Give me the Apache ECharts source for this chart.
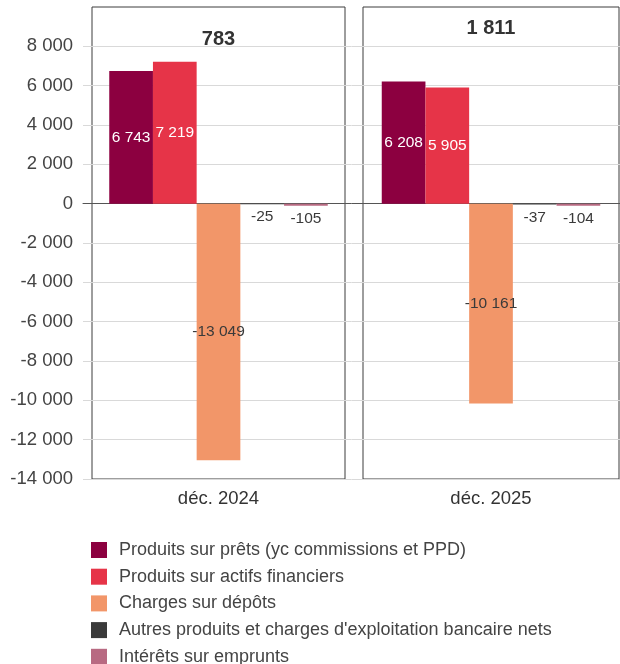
<!DOCTYPE html>
<html>
<head>
<meta charset="utf-8">
<script src="https://cdn.jsdelivr.net/npm/echarts@6/dist/echarts.min.js"></script>
<style>
  html, body { margin: 0; padding: 0; background: #fff; }
  #chart { width: 620px; height: 664px; }
</style>
</head>
<body>
<div id="chart"></div>
<script>
// Produit net bancaire : décomposition par période
const categories = ['déc. 2024', 'déc. 2025'];
const seriesNames = [
  'Produits sur prêts (yc commissions et PPD)',
  'Produits sur actifs financiers',
  'Charges sur dépôts',
  "Autres produits et charges d'exploitation bancaire nets",
  'Intérêts sur emprunts'
];
const pretsValues = [6743, 6208];
const actifsValues = [7219, 5905];
const depotsValues = [-13049, -10161];
const autresValues = [-25, -37];
const empruntsValues = [-105, -104];
const totalValues = [783, 1811];
const yTicks = { min: -14000, max: 10000, interval: 2000 };

const colors = ['#8C0040', '#E63448', '#F29669', '#3A3A3A', '#B86A82'];
const labelColors = ['#ffffff', '#ffffff', '#3a3a3a', '#3a3a3a', '#3a3a3a'];
const valuesBySeries = [pretsValues, actifsValues, depotsValues, autresValues, empruntsValues];

const FONT = '"Liberation Sans", Arial, Helvetica, sans-serif';
const fmt = v => String(v).replace(/\B(?=(\d{3})+(?!\d))/g, ' ');

// panel frames (pixels)
const frameTop = 7, frameBottom = 479;
const panels = [
  { left: 92, right: 345 },
  { left: 363, right: 619 }
];
const totalY = [39, 28];
const W = 620, H = 664;

// background grid carrying the shared value axis (labels + gridlines), top at 8 000
const pxPerUnit = (frameBottom - frameTop) / (yTicks.max - yTicks.min);
const bgTop = frameBottom - (8000 - yTicks.min) * pxPerUnit;

const grids = [
  { left: 83, right: 0, top: bgTop, bottom: H - frameBottom, show: false }
];
const xAxes = [
  {
    gridIndex: 0, type: 'category', data: [''],
    axisLine: { show: true, onZero: true, lineStyle: { color: '#555', width: 1 } },
    axisTick: { show: false }, axisLabel: { show: false }, splitLine: { show: false }
  }
];
const yAxes = [
  {
    gridIndex: 0, type: 'value', min: yTicks.min, max: 8000, interval: yTicks.interval,
    axisLine: { show: false }, axisTick: { show: false },
    axisLabel: { margin: 10, fontSize: 18.5, color: '#444', fontFamily: FONT, formatter: fmt },
    splitLine: { lineStyle: { color: '#d9d9d9', width: 1 } }
  }
];

panels.forEach((p, i) => {
  grids.push({
    left: p.left, width: p.right - p.left, top: frameTop, bottom: H - frameBottom,
    show: true, borderColor: '#3c3c3c', borderWidth: 1, backgroundColor: 'transparent'
  });
  xAxes.push({
    gridIndex: i + 1, type: 'category', data: [categories[i]],
    axisLine: { show: false, onZero: false }, axisTick: { show: false },
    axisLabel: { margin: 10, fontSize: 18.5, color: '#333', fontFamily: FONT },
    splitLine: { show: false }
  });
  yAxes.push({
    gridIndex: i + 1, type: 'value', min: yTicks.min, max: yTicks.max, interval: yTicks.interval,
    show: false, splitLine: { show: false }
  });
});

const series = [];
panels.forEach((p, i) => {
  seriesNames.forEach((name, s) => {
    const v = valuesBySeries[s][i];
    const small = Math.abs(v) < 1000;
    series.push({
      name, type: 'bar',
      xAxisIndex: i + 1, yAxisIndex: i + 1,
      data: [v],
      barWidth: 43.7, barGap: '0%',
      itemStyle: { color: colors[s] },
      label: {
        show: true,
        position: small ? 'bottom' : 'inside',
        distance: 5,
        formatter: d => fmt(d.value),
        color: labelColors[s],
        fontSize: 15.5, fontFamily: FONT
      },
      emphasis: { disabled: true },
      animation: false
    });
  });
});

const graphics = panels.map((p, i) => ({
  type: 'text',
  x: (p.left + p.right) / 2,
  y: totalY[i],
  style: {
    text: fmt(totalValues[i]),
    align: 'center', verticalAlign: 'middle',
    font: 'bold 20px ' + FONT,
    fill: '#333'
  }
}));

const chart = echarts.init(document.getElementById('chart'), null, { renderer: 'canvas' });
chart.setOption({
  animation: false,
  grid: grids,
  xAxis: xAxes,
  yAxis: yAxes,
  series,
  graphic: graphics,
  legend: {
    data: seriesNames,
    orient: 'vertical',
    left: 91, top: 541, height: 140, padding: 0,
    icon: 'rect', itemWidth: 16, itemHeight: 16, itemGap: 8.7,
    textStyle: { fontSize: 18, lineHeight: 18, color: '#444', fontFamily: FONT, padding: [0, 0, 0, 7] },
    selectedMode: false
  }
});
</script>
</body>
</html>
